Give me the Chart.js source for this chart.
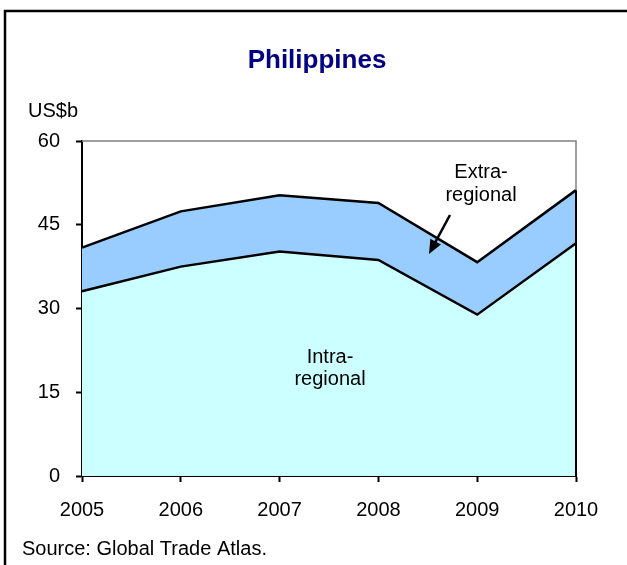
<!DOCTYPE html>
<html lang="en">
<head>
  <meta charset="UTF-8">
  <title>Philippines</title>
  <script src="https://cdn.jsdelivr.net/npm/chart.js"></script>
  <style>
    html, body {
      margin: 0;
      padding: 0;
      background: #fff;
      overflow: hidden;
    }
    #wrap {
      width: 627px;
      height: 565px;
    }
  </style>
</head>
<body>
  <div id="wrap"><canvas id="chart" width="627" height="565"></canvas></div>

  <script>
    const years = ['2005', '2006', '2007', '2008', '2009', '2010'];
    const intraRegional = [33.1, 37.5, 40.2, 38.7, 28.9, 41.7];
    const extraRegional = [7.8, 9.9, 10.1, 10.2, 9.4, 9.5];
    const yTicks = [0, 15, 30, 45, 60];

    const FONT = "'Liberation Sans', Arial, sans-serif";

    // title, unit label, notes, arrow, frame
    const decorations = {
      id: 'decorations',
      afterDraw(chart) {
        const ctx = chart.ctx;
        const a = chart.chartArea;
        const yScale = chart.scales.y;
        const last = years.length - 1;
        const topEnd = yScale.getPixelForValue(intraRegional[last] + extraRegional[last]);
        ctx.save();

        // outer frame
        ctx.strokeStyle = '#000';
        ctx.lineWidth = 2.5;
        ctx.beginPath();
        ctx.moveTo(5, 570);
        ctx.lineTo(5, 11);
        ctx.lineTo(640, 11);
        ctx.stroke();

        // plot edges: gray top, right edge gray above the data, black below
        ctx.strokeStyle = '#808080';
        ctx.lineWidth = 1.5;
        ctx.beginPath();
        ctx.moveTo(a.left, a.top);
        ctx.lineTo(a.right, a.top);
        ctx.lineTo(a.right, topEnd);
        ctx.stroke();
        ctx.strokeStyle = '#000';
        ctx.lineWidth = 2;
        ctx.beginPath();
        ctx.moveTo(a.right, topEnd);
        ctx.lineTo(a.right, a.bottom);
        ctx.stroke();

        ctx.fillStyle = '#000080';
        ctx.font = 'bold 26px ' + FONT;
        ctx.textAlign = 'center';
        ctx.textBaseline = 'alphabetic';
        ctx.fillText('Philippines', 317, 68);

        ctx.fillStyle = '#000';
        ctx.font = '20px ' + FONT;
        ctx.textAlign = 'left';
        ctx.fillText('US$b', 28, 117);
        ctx.fillText('Source: Global Trade Atlas.', 22, 555);

        ctx.textAlign = 'center';
        ctx.fillText('Extra-', 481, 178);
        ctx.fillText('regional', 481, 201);
        ctx.fillText('Intra-', 330, 363);
        ctx.fillText('regional', 330, 385);

        // arrow
        const x0 = 450, y0 = 215, x1 = 429, y1 = 254;
        const ang = Math.atan2(y1 - y0, x1 - x0);
        ctx.strokeStyle = '#000';
        ctx.lineWidth = 2.5;
        ctx.beginPath();
        ctx.moveTo(x0, y0);
        ctx.lineTo(x1 - 8 * Math.cos(ang), y1 - 8 * Math.sin(ang));
        ctx.stroke();
        ctx.beginPath();
        ctx.moveTo(x1, y1);
        ctx.lineTo(x1 - 14 * Math.cos(ang) + 6 * Math.sin(ang), y1 - 14 * Math.sin(ang) - 6 * Math.cos(ang));
        ctx.lineTo(x1 - 14 * Math.cos(ang) - 6 * Math.sin(ang), y1 - 14 * Math.sin(ang) + 6 * Math.cos(ang));
        ctx.closePath();
        ctx.fillStyle = '#000';
        ctx.fill();

        ctx.restore();
      }
    };

    new Chart(document.getElementById('chart'), {
      type: 'line',
      data: {
        labels: years,
        datasets: [{
          label: 'Intra-regional',
          data: intraRegional,
          fill: 'origin',
          backgroundColor: '#CCFFFF',
          borderColor: '#000',
          borderWidth: 2.5,
          pointRadius: 0,
          tension: 0
        }, {
          label: 'Extra-regional',
          data: extraRegional,
          fill: '-1',
          backgroundColor: '#99CCFF',
          borderColor: '#000',
          borderWidth: 2.5,
          pointRadius: 0,
          tension: 0
        }]
      },
      options: {
        responsive: false,
        animation: false,
        layout: { padding: { top: 141, right: 51, left: 0, bottom: 0 } },
        plugins: {
          legend: { display: false },
          tooltip: { enabled: false }
        },
        scales: {
          x: {
            offset: false,
            afterFit(scale) {
              scale.height = 89;
              scale.paddingLeft = 0;
              scale.paddingRight = 0;
            },
            grid: {
              drawOnChartArea: false,
              drawTicks: true,
              tickLength: 6,
              tickWidth: 2,
              color: '#000'
            },
            border: { color: '#000', width: 2 },
            ticks: {
              color: '#000',
              padding: 16,
              maxRotation: 0,
              font: { family: FONT, size: 20 }
            }
          },
          y: {
            stacked: true,
            min: 0,
            max: 60,
            afterFit(scale) {
              scale.width = 82;
              scale.paddingTop = 0;
              scale.paddingBottom = 0;
            },
            afterBuildTicks(scale) {
              scale.ticks = yTicks.map(v => ({ value: v }));
            },
            grid: {
              drawOnChartArea: false,
              drawTicks: true,
              tickLength: 6,
              tickWidth: 2,
              color: '#000'
            },
            border: { color: '#000', width: 2 },
            ticks: {
              color: '#000',
              padding: 16,
              font: { family: FONT, size: 20 }
            }
          }
        }
      },
      plugins: [decorations]
    });
  </script>
</body>
</html>
